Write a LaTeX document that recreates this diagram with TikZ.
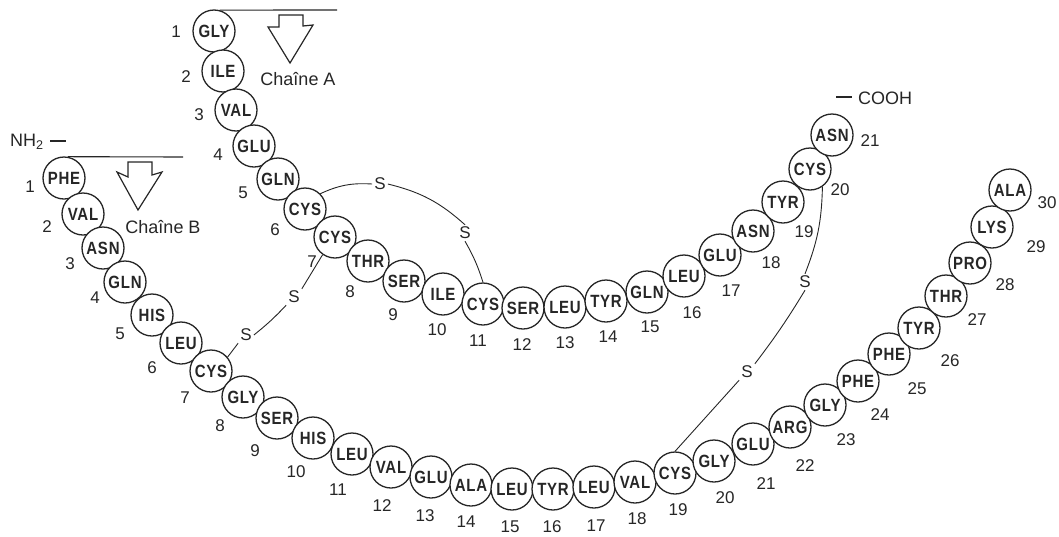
\documentclass[tikz,border=0pt]{standalone}
\usepackage{fontspec}
\setmainfont{Liberation Sans}
\newcommand{\restxt}[1]{\scalebox{1.0}[1.18]{\fontsize{15}{15}\selectfont\bfseries\addfontfeature{LetterSpace=5}#1}}
\tikzset{
  residue/.style={circle,draw=black!85,line width=1.3pt,fill=white,minimum size=42pt,inner sep=0pt,text=black!85},
  numlabel/.style={font=\fontsize{17}{17}\selectfont,text=black!85,inner sep=0pt},
  sulfur/.style={font=\fontsize{17}{17}\selectfont,text=black!85,inner sep=2pt},
  chainlabel/.style={font=\fontsize{18}{18}\selectfont,text=black!85,inner sep=0pt},
  bond/.style={line width=0.9pt,draw=black!85},
  rule/.style={line width=1.1pt,draw=black!85},
  hollowarrow/.style={line width=1.2pt,draw=black!85,fill=white,line join=miter}
}
\begin{document}
\begin{tikzpicture}[x=1pt,y=-1pt]
\useasboundingbox (0,0) rectangle (1059,536);
\foreach \nm/\px/\py in {sa/380/184,sb/465/233,sc/246/335,sd/294/297,se/805/282,sf/747/372}
  \node[sulfur] (\nm) at (\px,\py) {S};
% Chain A
\foreach \i/\n/\x/\y/\lx/\ly in {
 1/GLY/214/31/176/32, 2/ILE/223/71/186/77, 3/VAL/236/110/199/115, 4/GLU/254/146/218/155,
 5/GLN/278/179/243/193, 6/CYS/305/209/275/230, 7/CYS/335/237/312/262, 8/THR/368/261/350/292,
 9/SER/404/281/393/315, 10/ILE/443/294/437/330, 11/CYS/483/304/478/341, 12/SER/523/308/522/345,
 13/LEU/565/307/565/343, 14/TYR/606/301/608/337, 15/GLN/647/292/650/327, 16/LEU/684/276/692/313,
 17/GLU/720/255/731/291, 18/ASN/753/231/771/263, 19/TYR/783/202/804/232, 20/CYS/810/169/840/190,
 21/ASN/832/135/870/141}
{
  \node[residue] (a\i) at (\x,\y) {\restxt{\n}};
  \node[numlabel] (na\i) at (\lx,\ly) {\i};
}
% Chain B
\foreach \i/\n/\x/\y/\lx/\ly in {
 1/PHE/64/178/30/187, 2/VAL/83/214/47/227, 3/ASN/103/248/70/264, 4/GLN/125/282/95/298,
 5/HIS/152/315/120/334, 6/LEU/181/343/152/368, 7/CYS/211/371/185/398, 8/GLY/243/397/220/426,
 9/SER/277/418/255/451, 10/HIS/313/438/296/472, 11/LEU/352/454/338/490, 12/VAL/391/467/382/506,
 13/GLU/431/477/425/516, 14/ALA/471/485/466/522, 15/LEU/512/489/510/527, 16/TYR/553/489/552/527,
 17/LEU/594/487/596/526, 18/VAL/635/482/637/519, 19/CYS/675/473/678/510, 20/GLY/714/461/725/498,
 21/GLU/753/444/766/484, 22/ARG/790/427/805/466, 23/GLY/825/405/846/440, 24/PHE/858/381/880/415,
 25/PHE/889/354/917/389, 26/TYR/919/328/950/361, 27/THR/946/296/977/320, 28/PRO/970/263/1005/285,
 29/LYS/992/227/1036/247, 30/ALA/1010/190/1047/203}
{
  \node[residue] (b\i) at (\x,\y) {\restxt{\n}};
  \node[numlabel] (nb\i) at (\lx,\ly) {\i};
}
% disulfide bridges
\draw[bond] (a6.45) to[bend left=14] (sa.west);
\draw[bond] (sa.east) to[bend left=14] (sb.north);
\draw[bond] (sb.south) to[bend left=6] (a11.north);
\draw[bond] (b7.40) -- (sc.south west);
\draw[bond] (sc.east) to[bend right=4] (sd.south west);
\draw[bond] (sd.north east) -- (a7.-125);
\draw[bond] (a20.-55) to[bend left=10] (se.north);
\draw[bond] (se.south) to[bend left=3] (sf.north east);
\draw[bond] (sf.south west) -- (b19.90);
% chain start rules
\coordinate (ra) at (337,10);
\coordinate (rb) at (183,157);
\draw[rule] (a1.75) -- (ra);
\draw[rule] (b1.80) -- (rb);
% hollow arrows
\draw[hollowarrow] (279,15) -- (303,15) -- (303,26) -- (313,25) -- (290,63) -- (268,27) -- (279,27) -- cycle;
\draw[hollowarrow] (128,162) -- (152,162) -- (152,175) -- (162,172) -- (138,210) -- (117,172) -- (128,177) -- cycle;
\node[chainlabel] (ca) at (298,79) {Chaîne A};
\node[chainlabel] (cb) at (163,227) {Chaîne B};
\node[font=\fontsize{18}{18}\selectfont,text=black!85,inner sep=0pt,anchor=west] (nh) at (10,142) {NH\textsubscript{2}};
\node[font=\fontsize{18}{18}\selectfont,text=black!85,inner sep=0pt,anchor=west] (cooh) at (858,98) {COOH};
\coordinate (nhdash) at (66,141);
\coordinate (coohdash) at (852,97);
\draw[rule] (50,141) -- (nhdash);
\draw[rule] (836,97) -- (coohdash);
\end{tikzpicture}
\end{document}
